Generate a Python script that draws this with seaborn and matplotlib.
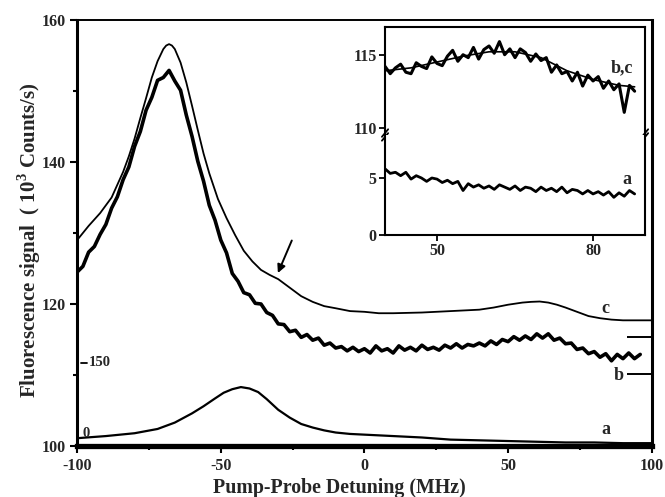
import numpy as np
import pandas as pd
import matplotlib
matplotlib.use("Agg")
import matplotlib.pyplot as plt
import seaborn as sns

# ---------------- data ----------------
# main panel, curve c (smooth)
c_detuning = [-100, -96, -92, -88, -84, -82, -80, -78, -76, -74, -72, -70, -69, -68, -67, -66,
              -64, -62, -60, -58, -56, -54, -51, -48, -45, -42, -39, -36, -33, -30, -26, -22,
              -18, -14, -10, -5, 0, 5, 10, 20, 30, 40, 45, 50, 55, 58, 61, 64, 67, 70, 74, 78,
              82, 86, 90, 95, 100]
c_signal = [129.0, 131.0, 132.8, 135.0, 138.6, 140.8, 143.3, 146.2, 149.0, 151.9, 154.2, 155.9,
            156.4, 156.6, 156.4, 155.9, 154.0, 151.2, 147.9, 144.5, 141.2, 138.4, 134.8, 132.1,
            129.7, 127.5, 126.0, 124.8, 124.1, 123.5, 122.3, 121.1, 120.3, 119.7, 119.4, 119.0,
            118.9, 118.7, 118.7, 118.8, 119.0, 119.2, 119.5, 119.9, 120.2, 120.3, 120.35, 120.2,
            119.9, 119.5, 118.9, 118.3, 118.0, 117.8, 117.7, 117.7, 117.7]

# main panel, curve b (noisy measurement), sampled every 2 MHz from -100 to 96
b_detuning = list(range(-100, 97, 2))
b_signal = [124.5, 125.3, 127.3, 128.1, 129.8, 131.2, 133.5, 135.1, 137.5, 139.3, 142.2, 144.3,
            147.3, 149.1, 151.5, 151.9, 152.9, 151.4, 150.1, 146.6, 143.6, 140.1, 137.3, 133.9,
            131.8, 129.0, 127.2, 124.3, 123.2, 121.6, 121.3, 120.1, 120.0, 118.8, 118.4, 117.2,
            117.1, 116.1, 116.3, 115.3, 115.7, 114.9, 115.2, 114.2, 114.5, 113.8, 114.0, 113.4,
            113.9, 113.3, 113.7, 113.1, 114.1, 113.4, 113.7, 113.1, 114.1, 113.5, 113.9, 113.4,
            114.2, 113.6, 113.9, 113.5, 114.2, 113.8, 114.4, 113.8, 114.3, 114.1, 114.5, 114.1,
            114.8, 114.3, 115.0, 114.7, 115.4, 114.9, 115.5, 115.0, 115.8, 115.2, 115.8, 114.9,
            115.2, 114.4, 114.5, 113.6, 113.8, 113.0, 113.3, 112.5, 113.0, 112.0, 112.9, 112.3,
            113.1, 112.3, 112.9]

# main panel, curve a
a_detuning = [-100, -90, -80, -72, -66, -60, -56, -52, -49, -46, -43, -40, -37, -34, -30, -26,
              -22, -18, -14, -10, -5, 0, 10, 20, 30, 40, 50, 60, 70, 80, 90, 100]
a_signal = [101.1, 101.4, 101.8, 102.4, 103.3, 104.6, 105.6, 106.7, 107.5, 108.0, 108.3, 108.1,
            107.6, 106.6, 105.1, 104.0, 103.1, 102.6, 102.2, 101.9, 101.7, 101.6, 101.4, 101.2,
            100.9, 100.8, 100.7, 100.6, 100.5, 100.5, 100.4, 100.4]

# inset: b,c (upper part) and a (lower part), sampled every 1 MHz from 40 to 88
inset_detuning = list(range(40, 89))
inset_b = [114.2, 113.7, 114.1, 114.35, 113.8, 113.7, 114.45, 114.2, 114.05, 114.85, 114.4,
           114.25, 114.9, 115.3, 114.55, 115.0, 114.8, 115.5, 114.7, 115.35, 115.6, 115.1, 115.9,
           115.0, 115.4, 114.8, 115.4, 115.15, 114.55, 115.05, 114.6, 114.8, 113.8, 114.3, 113.7,
           113.85, 113.2, 113.8, 112.85, 113.6, 113.2, 113.5, 112.7, 113.2, 112.6, 113.0, 111.05,
           112.9, 112.5]
inset_c_detuning = [40, 45, 50, 55, 60, 65, 70, 75, 80, 85, 88]
inset_c = [113.9, 114.1, 114.5, 114.9, 115.2, 115.2, 114.8, 113.9, 113.3, 112.9, 112.8]
inset_a = [5.8, 5.4, 5.5, 5.2, 5.5, 4.9, 5.2, 5.0, 4.7, 5.0, 4.9, 4.6, 4.8, 4.5, 4.7, 3.9, 4.5,
           4.2, 4.4, 4.1, 4.3, 4.0, 4.4, 4.2, 4.0, 4.3, 3.9, 4.2, 4.1, 3.8, 4.2, 3.9, 4.1, 3.8,
           4.2, 3.7, 4.0, 3.9, 3.6, 3.9, 3.6, 3.8, 3.5, 3.8, 3.3, 3.7, 3.4, 3.9, 3.6]

x_ticks = [-100, -50, 0, 50, 100]
x_tick_labels = ["-100", "-50", "0", "50", "100"]
y_ticks = [100, 120, 140, 160]

# ---------------- styling ----------------
sns.set_theme(style="ticks")
plt.rcParams["font.family"] = ["Liberation Serif", "DejaVu Serif"]
plt.rcParams["font.weight"] = "bold"
plt.rcParams["axes.unicode_minus"] = False
plt.rcParams["mathtext.fontset"] = "custom"
plt.rcParams["mathtext.rm"] = "Liberation Serif:bold"
plt.rcParams["mathtext.bf"] = "Liberation Serif:bold"

fig = plt.figure(figsize=(6.65, 4.97), dpi=100)
ax = fig.add_axes([0.116, 0.1026, 0.864, 0.8572])

sns.lineplot(x=c_detuning, y=c_signal, ax=ax, color="black", lw=1.3)
sns.lineplot(x=b_detuning, y=b_signal, ax=ax, color="black", lw=2.6)
sns.lineplot(x=a_detuning, y=a_signal, ax=ax, color="black", lw=1.6)

ax.set_xlim(-100, 100)
ax.set_ylim(100, 160)
ax.set_xticks(x_ticks)
ax.set_xticklabels(x_tick_labels)
ax.set_xticks([-75, -25, 25, 75], minor=True)
ax.set_yticks(y_ticks)
ax.set_yticks([110, 130, 150], minor=True)
ax.tick_params(which="major", direction="out", length=5, width=1.5, labelsize=11.5, color="black")
ax.tick_params(which="minor", direction="out", length=3, width=1.5, color="black")
for lab in ax.get_xticklabels() + ax.get_yticklabels():
    lab.set_fontweight("bold")

for side, w in [("left", 2.2), ("bottom", 3.8), ("right", 2.2), ("top", 1.4)]:
    ax.spines[side].set_visible(True)
    ax.spines[side].set_linewidth(w)
    ax.spines[side].set_color("black")

ax.set_xlabel("Pump-Probe Detuning (MHz)", fontsize=14.3, fontweight="bold", labelpad=0)
ax.xaxis.set_label_coords(0.457, -0.075)
ax.set_ylabel(r"Fluorescence signal  ( 10$^3$ Counts/s)", fontsize=15, fontweight="bold")
ax.yaxis.set_label_coords(-0.06, 0.484)

# curve labels
ax.text(84, 119.4, "c", fontsize=13, fontweight="bold", ha="center", va="center")
ax.text(88.5, 110.0, "b", fontsize=13, fontweight="bold", ha="center", va="center")
ax.text(84, 102.3, "a", fontsize=13, fontweight="bold", ha="center", va="center")

# secondary scale for curve a
ax.text(-95.8, 111.7, "150", fontsize=10.5, fontweight="bold", ha="left", va="center")
ax.plot([-98.6, -96.6], [111.7, 111.7], color="black", lw=1.3)
ax.text(-98.3, 101.8, "0", fontsize=10.5, fontweight="bold", ha="left", va="center")

# markers at right edge
ax.hlines([115.35, 110.1], 91.3, 99.6, color="black", lw=1.4)

# arrow
ax.annotate("", xy=(-30.5, 124.0), xytext=(-24.9, 129.3),
            arrowprops=dict(arrowstyle="-|>", lw=1.4, color="black", mutation_scale=12))

# ---------------- inset (broken y axis) ----------------
axu = fig.add_axes([0.579, 0.7284, 0.391, 0.2173])
axl = fig.add_axes([0.579, 0.5272, 0.391, 0.2012])

sns.lineplot(x=inset_c_detuning, y=inset_c, ax=axu, color="black", lw=1.2)
sns.lineplot(x=inset_detuning, y=inset_b, ax=axu, color="black", lw=2.2)
sns.lineplot(x=inset_detuning, y=inset_a, ax=axl, color="black", lw=2.0)

axu.set_xlim(40, 90)
axl.set_xlim(40, 90)
axu.set_ylim(109.5, 116.9)
axl.set_ylim(0, 8.77)

axu.set_yticks([110, 115])
axu.set_xticks([])
axl.set_yticks([0, 5])
axl.set_xticks([50, 80])
for a_ in (axu, axl):
    a_.tick_params(direction="out", length=4, width=1.3, labelsize=11.5, pad=2, color="black")
    for lab in a_.get_xticklabels() + a_.get_yticklabels():
        lab.set_fontweight("bold")
    for s in ("left", "right", "top", "bottom"):
        a_.spines[s].set_visible(True)
        a_.spines[s].set_linewidth(1.5)
        a_.spines[s].set_color("black")
axu.spines["bottom"].set_visible(False)
axl.spines["top"].set_visible(False)

axu.text(85.5, 114.1, "b,c", fontsize=13, fontweight="bold", ha="center", va="center")
axl.text(86.5, 4.9, "a", fontsize=13, fontweight="bold", ha="center", va="center")

# break marks
for xa in (0.0, 1.0):
    for off in (-0.018, 0.018):
        axu.plot([xa - 0.012, xa + 0.012], [off - 0.035, off + 0.035], transform=axu.transAxes,
                 color="black", lw=1.3, clip_on=False)

fig.savefig("out.png", dpi=100)
